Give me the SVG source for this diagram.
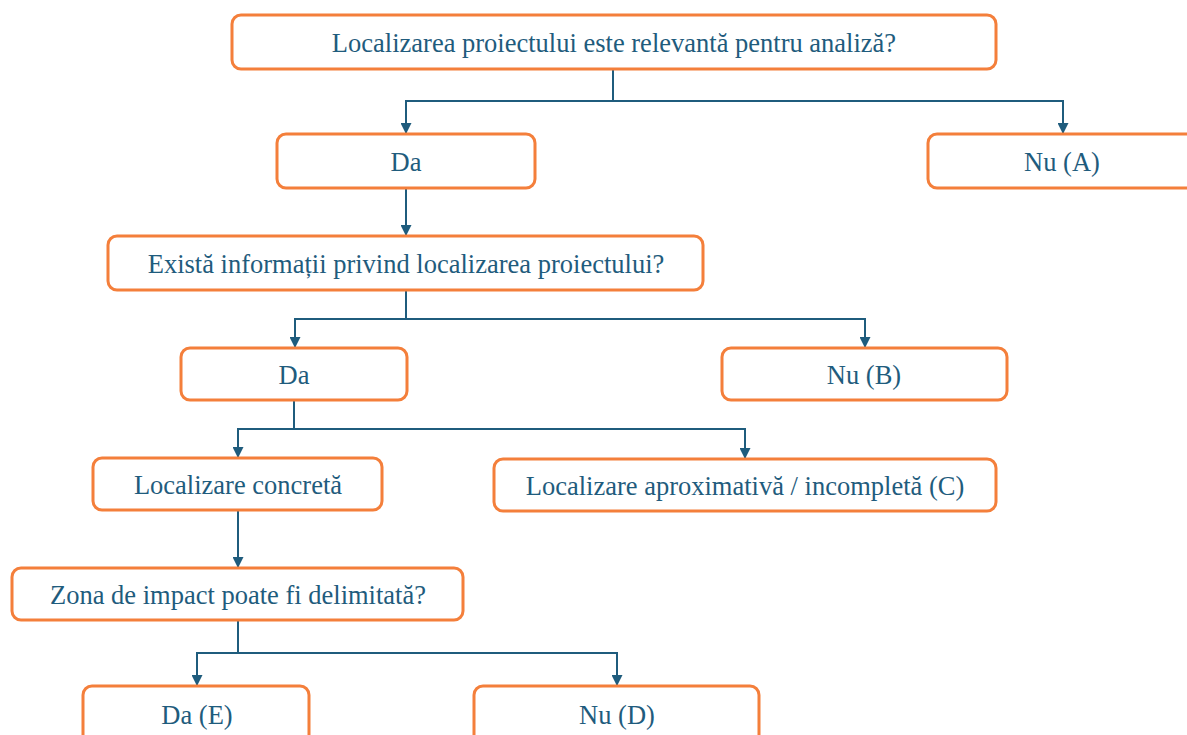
<svg xmlns="http://www.w3.org/2000/svg" width="1187" height="735" viewBox="0 0 1187 735">
<defs>
<marker id="ah" markerWidth="11" markerHeight="11" refX="10" refY="5.5" orient="auto" markerUnits="userSpaceOnUse" viewBox="0 0 11 11">
<path d="M0,0 L11,5.5 L0,11 Z" fill="#1f5c7d"/>
</marker>
</defs>
<style>
.box{fill:#ffffff;stroke:#f47f3b;stroke-width:3}
.t{font-family:'Liberation Serif','DejaVu Serif',serif;font-size:26.5px;fill:#1f5c7d;text-anchor:middle}
.c{fill:none;stroke:#1f5c7d;stroke-width:2}
</style>
<rect width="1187" height="735" fill="#ffffff"/>
<g id="connectors">
<path class="c" d="M613,69 V101 H406 V133" marker-end="url(#ah)"/>
<path class="c" d="M613,101 H1063 V133" marker-end="url(#ah)"/>
<path class="c" d="M406,188 V235" marker-end="url(#ah)"/>
<path class="c" d="M406,290 V319 H295 V347" marker-end="url(#ah)"/>
<path class="c" d="M406,319 H865 V347" marker-end="url(#ah)"/>
<path class="c" d="M294,400 V429 H238 V457" marker-end="url(#ah)"/>
<path class="c" d="M294,429 H745 V458" marker-end="url(#ah)"/>
<path class="c" d="M238,510 V567" marker-end="url(#ah)"/>
<path class="c" d="M238,620 V653 H197 V685" marker-end="url(#ah)"/>
<path class="c" d="M238,653 H617 V685" marker-end="url(#ah)"/>
</g>
<g id="n1"><rect class="box" x="232" y="15" width="764" height="54" rx="9"/><text class="t" x="614" y="52">Localizarea proiectului este relevantă pentru analiză?</text></g>
<g id="n2"><rect class="box" x="277" y="134" width="258" height="54" rx="9"/><text class="t" x="406" y="171">Da</text></g>
<g id="n3"><rect class="box" x="928" y="134" width="270" height="54" rx="9"/><text class="t" x="1062" y="171">Nu (A)</text></g>
<g id="n4"><rect class="box" x="108" y="236" width="595" height="54" rx="9"/><text class="t" x="406" y="273">Există informații privind localizarea proiectului?</text></g>
<g id="n5"><rect class="box" x="181" y="348" width="226" height="52" rx="9"/><text class="t" x="294" y="384">Da</text></g>
<g id="n6"><rect class="box" x="722" y="348" width="285" height="52" rx="9"/><text class="t" x="864" y="384">Nu (B)</text></g>
<g id="n7"><rect class="box" x="93" y="458" width="289" height="52" rx="9"/><text class="t" x="238" y="494">Localizare concretă</text></g>
<g id="n8"><rect class="box" x="494" y="459" width="502" height="52" rx="9"/><text class="t" x="745" y="495">Localizare aproximativă / incompletă (C)</text></g>
<g id="n9"><rect class="box" x="12" y="568" width="451" height="52" rx="9"/><text class="t" x="238" y="604">Zona de impact poate fi delimitată?</text></g>
<g id="n10"><rect class="box" x="83" y="686" width="226" height="60" rx="9"/><text class="t" x="197" y="724">Da (E)</text></g>
<g id="n11"><rect class="box" x="474" y="686" width="285" height="60" rx="9"/><text class="t" x="617" y="724">Nu (D)</text></g>
</svg>
